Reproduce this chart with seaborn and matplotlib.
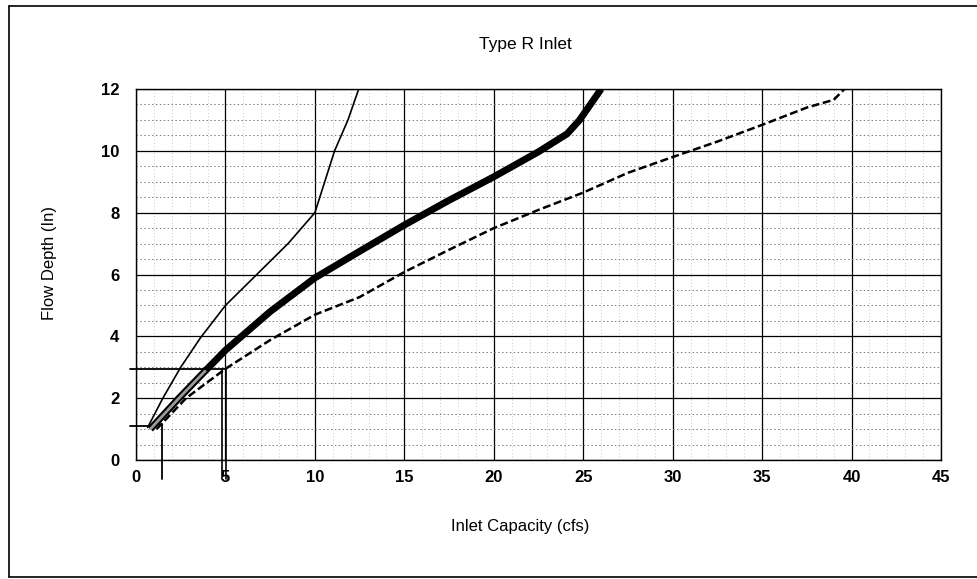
import numpy as np
import pandas as pd
import matplotlib
matplotlib.use("Agg")
import matplotlib.pyplot as plt
from matplotlib.lines import Line2D
import seaborn as sns

# ---- data ----
thin_q = [0.65, 1.5, 2.5, 3.6, 5.0, 6.75, 8.5, 10.0, 10.55, 11.1, 11.85, 12.45]
thin_depth = [1.05, 2.0, 3.0, 3.95, 5.0, 6.0, 7.0, 8.0, 9.0, 10.0, 11.0, 12.0]

thick_q = [0.8, 2.4, 3.9, 5.0, 7.5, 10.0, 12.5, 15.0, 17.5, 20.0, 22.5, 24.1, 24.8, 26.0]
thick_depth = [1.0, 2.0, 2.9, 3.55, 4.8, 5.89, 6.75, 7.6, 8.4, 9.16, 9.97, 10.55, 11.0, 12.0]

dash_q = [1.15, 2.8, 5.0, 7.5, 10.0, 12.5, 15.0, 17.5, 20.0, 22.5, 25.0, 27.5, 30.0,
          32.5, 35.0, 37.5, 39.0, 39.6]
dash_depth = [1.0, 2.0, 2.95, 3.88, 4.7, 5.27, 6.08, 6.8, 7.5, 8.09, 8.65, 9.29, 9.8,
              10.3, 10.84, 11.4, 11.65, 12.0]

# hand-drawn reading marks on the scanned chart
read_depths = [1.1, 2.95]
read_q = [1.45, 4.9]

x_ticks = [0, 5, 10, 15, 20, 25, 30, 35, 40, 45]
y_ticks = [0, 2, 4, 6, 8, 10, 12]

title = "Type R Inlet"
x_label = "Inlet Capacity (cfs)"
y_label = "Flow Depth (In)"

# ---- build frame ----
df = pd.concat([
    pd.DataFrame({"q": thin_q, "depth": thin_depth, "curve": "thin"}),
    pd.DataFrame({"q": thick_q, "depth": thick_depth, "curve": "thick"}),
    pd.DataFrame({"q": dash_q, "depth": dash_depth, "curve": "dash"}),
], ignore_index=True)

sns.set_style("white")
plt.rcParams["font.family"] = ["Liberation Sans", "DejaVu Sans"]
plt.rcParams["text.color"] = "black"
plt.rcParams["axes.labelcolor"] = "black"
plt.rcParams["xtick.color"] = "black"
plt.rcParams["ytick.color"] = "black"

fig = plt.figure(figsize=(9.77, 5.79), dpi=100)
ax = fig.add_axes([0.1392, 0.2055, 0.824, 0.6408])

# grid
ax.set_xlim(0, 45)
ax.set_ylim(0, 12)
ax.set_xticks(x_ticks)
ax.set_yticks(y_ticks)
ax.set_xticks(np.arange(0, 46, 1), minor=True)
ax.set_yticks(np.arange(0, 12.01, 0.5), minor=True)
ax.grid(which="minor", axis="y", color="#7a7a7a", linestyle=(0, (1.5, 2.5)), linewidth=0.7)
ax.grid(which="minor", axis="x", color="#b5b5b5", linestyle=(0, (1, 3)), linewidth=0.6)
ax.grid(which="major", color="black", linestyle="-", linewidth=0.9)
ax.set_axisbelow(True)

sns.lineplot(data=df[df.curve == "thin"], x="q", y="depth", ax=ax, sort=False,
             estimator=None, color="black", linewidth=1.2)
sns.lineplot(data=df[df.curve == "thick"], x="q", y="depth", ax=ax, sort=False,
             estimator=None, color="black", linewidth=5.0, solid_capstyle="butt")
sns.lineplot(data=df[df.curve == "dash"], x="q", y="depth", ax=ax, sort=False,
             estimator=None, color="black", linewidth=1.8, linestyle=(0, (3.2, 1.4)))

# highlighter trace on the thick curve near the origin
hl = df[(df.curve == "thick") & (df.q <= 3.9)]
ax.plot(hl["q"], hl["depth"], color="#9a9a9a", linewidth=2.0, solid_capstyle="butt")

# hand-drawn reading lines
ax.plot([-0.35, 0.8], [read_depths[0], read_depths[0]], color="black", lw=1.3, clip_on=False)
ax.plot([1.2, read_q[0]], [read_depths[0] + 0.05, read_depths[0] + 0.05], color="black", lw=1.0, clip_on=False)
ax.plot([read_q[0], read_q[0]], [read_depths[0] + 0.05, -0.6], color="black", lw=1.3, clip_on=False)
ax.plot([-0.35, read_q[1] + 0.15], [read_depths[1], read_depths[1]], color="black", lw=1.3, clip_on=False)
ax.plot([read_q[1] - 0.1, read_q[1] - 0.1], [read_depths[1], -0.6], color="black", lw=1.2, clip_on=False)
ax.plot([read_q[1] + 0.15, read_q[1] + 0.15], [read_depths[1], -0.6], color="black", lw=1.2, clip_on=False)

for s in ax.spines.values():
    s.set_color("black")
    s.set_linewidth(1.0)
    s.set_visible(True)

ax.tick_params(axis="both", which="major", direction="out", length=4, width=1,
               color="black", labelcolor="black", labelsize=12)
ax.tick_params(axis="x", pad=3)
ax.tick_params(axis="y", pad=8)
ax.tick_params(which="minor", length=0)
for lbl in ax.get_xticklabels() + ax.get_yticklabels():
    lbl.set_fontweight("bold")

ax.set_xlabel(x_label, fontsize=12, color="black")
ax.set_ylabel(y_label, fontsize=12, color="black")
ax.xaxis.set_label_coords(0.477, -0.18)
ax.xaxis.label.set_verticalalignment("center")
ax.yaxis.set_label_coords(-0.108, 0.53)
ax.yaxis.label.set_verticalalignment("center")

fig.text(0.538, 0.924, title, ha="center", va="center", fontsize=12.5, color="black")

# scanned page frame
for xs, ys in [([0.0092, 1.0], [0.9896, 0.9896]),
               ([0.0092, 0.0092], [0.0035, 0.9896]),
               ([0.0092, 1.0], [0.0035, 0.0035])]:
    fig.add_artist(Line2D(xs, ys, transform=fig.transFigure, color="black", lw=1.2))

fig.savefig("out.png", dpi=100)
